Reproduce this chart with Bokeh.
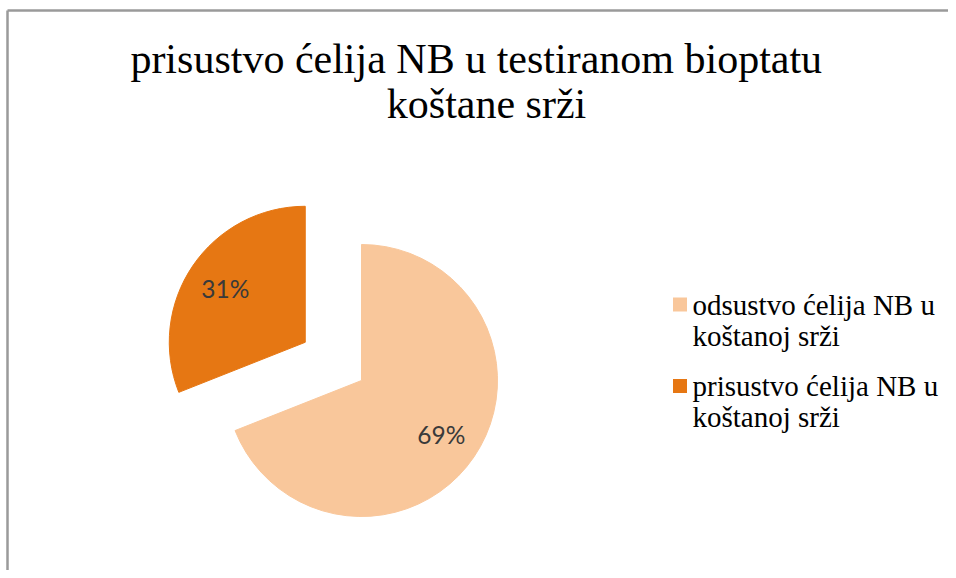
import math
from bokeh.plotting import figure
from bokeh.models import Range1d
from bokeh.core.properties import value
from bokeh.embed import file_html
from bokeh.resources import INLINE

# ---- data ----
title_lines = ["prisustvo  ćelija NB u testiranom bioptatu", "koštane srži"]
categories = ["odsustvo ćelija NB u\nkoštanoj srži", "prisustvo ćelija NB u\nkoštanoj srži"]
values = [69, 31]
colors = ["#F9C79B", "#E67713"]
explode = [0.0, 0.5]

# ---- figure (1 data unit = 1 pixel, y measured upward from the bottom) ----
W, H = 948, 570
p = figure(width=W, height=H, x_range=Range1d(0, W), y_range=Range1d(0, H),
           output_backend="svg", toolbar_location=None,
           x_axis_type=None, y_axis_type=None, min_border=0,
           outline_line_color=None, background_fill_color="white",
           border_fill_color="white")
p.grid.visible = False

# chart border (left + top, the rest is cut off in the reference)
p.segment(x0=[7, 7], y0=[0, 560], x1=[7, W], y1=[560, 560],
          line_color="#9a9a9a", line_width=2.5)

# ---- title ----
p.text(x=[481, 486], y=[570 - 58, 570 - 103], text=title_lines,
       text_font=value("Liberation Serif"), text_font_size="42px",
       text_align="center", text_baseline="middle", text_color="#000000")

# ---- pie ----
cx, cy, r = 361, 190, 136
total = float(sum(values))
cum = 0.0
for v, c, e in zip(values, colors, explode):
    frac = v / total
    a_hi = math.pi / 2 - 2 * math.pi * cum
    a_lo = math.pi / 2 - 2 * math.pi * (cum + frac)
    mid = (a_hi + a_lo) / 2
    ox = cx + e * r * math.cos(mid)
    oy = cy + e * r * math.sin(mid)
    p.wedge(x=ox, y=oy, radius=r, start_angle=a_lo, end_angle=a_hi,
            direction="anticlock", fill_color=c, line_color=c)
    lx = ox + 0.71 * r * math.cos(mid)
    ly = oy + 0.71 * r * math.sin(mid)
    p.text(x=[lx], y=[ly], text=[f"{round(frac * 100)}%"],
           text_font=value("Lato"), text_font_size="24.5px",
           text_align="center", text_baseline="middle", text_color="#3a3a3a")
    cum += frac

# ---- legend ----
lg_x, lg_y, step = 679.5, 570 - 304, 81.5
for i, (lab, c) in enumerate(zip(categories, colors)):
    sy = lg_y - i * step
    p.rect(x=lg_x, y=sy, width=14, height=14, fill_color=c, line_color=None)
    lines = lab.split("\n")
    p.text(x=[lg_x + 12.5] * len(lines), y=[sy - 31 * k for k in range(len(lines))],
           text=lines, text_font=value("Liberation Serif"), text_font_size="29px",
           text_align="left", text_baseline="middle", text_color="#000000")

open("out.html", "w").write(file_html(p, INLINE))
